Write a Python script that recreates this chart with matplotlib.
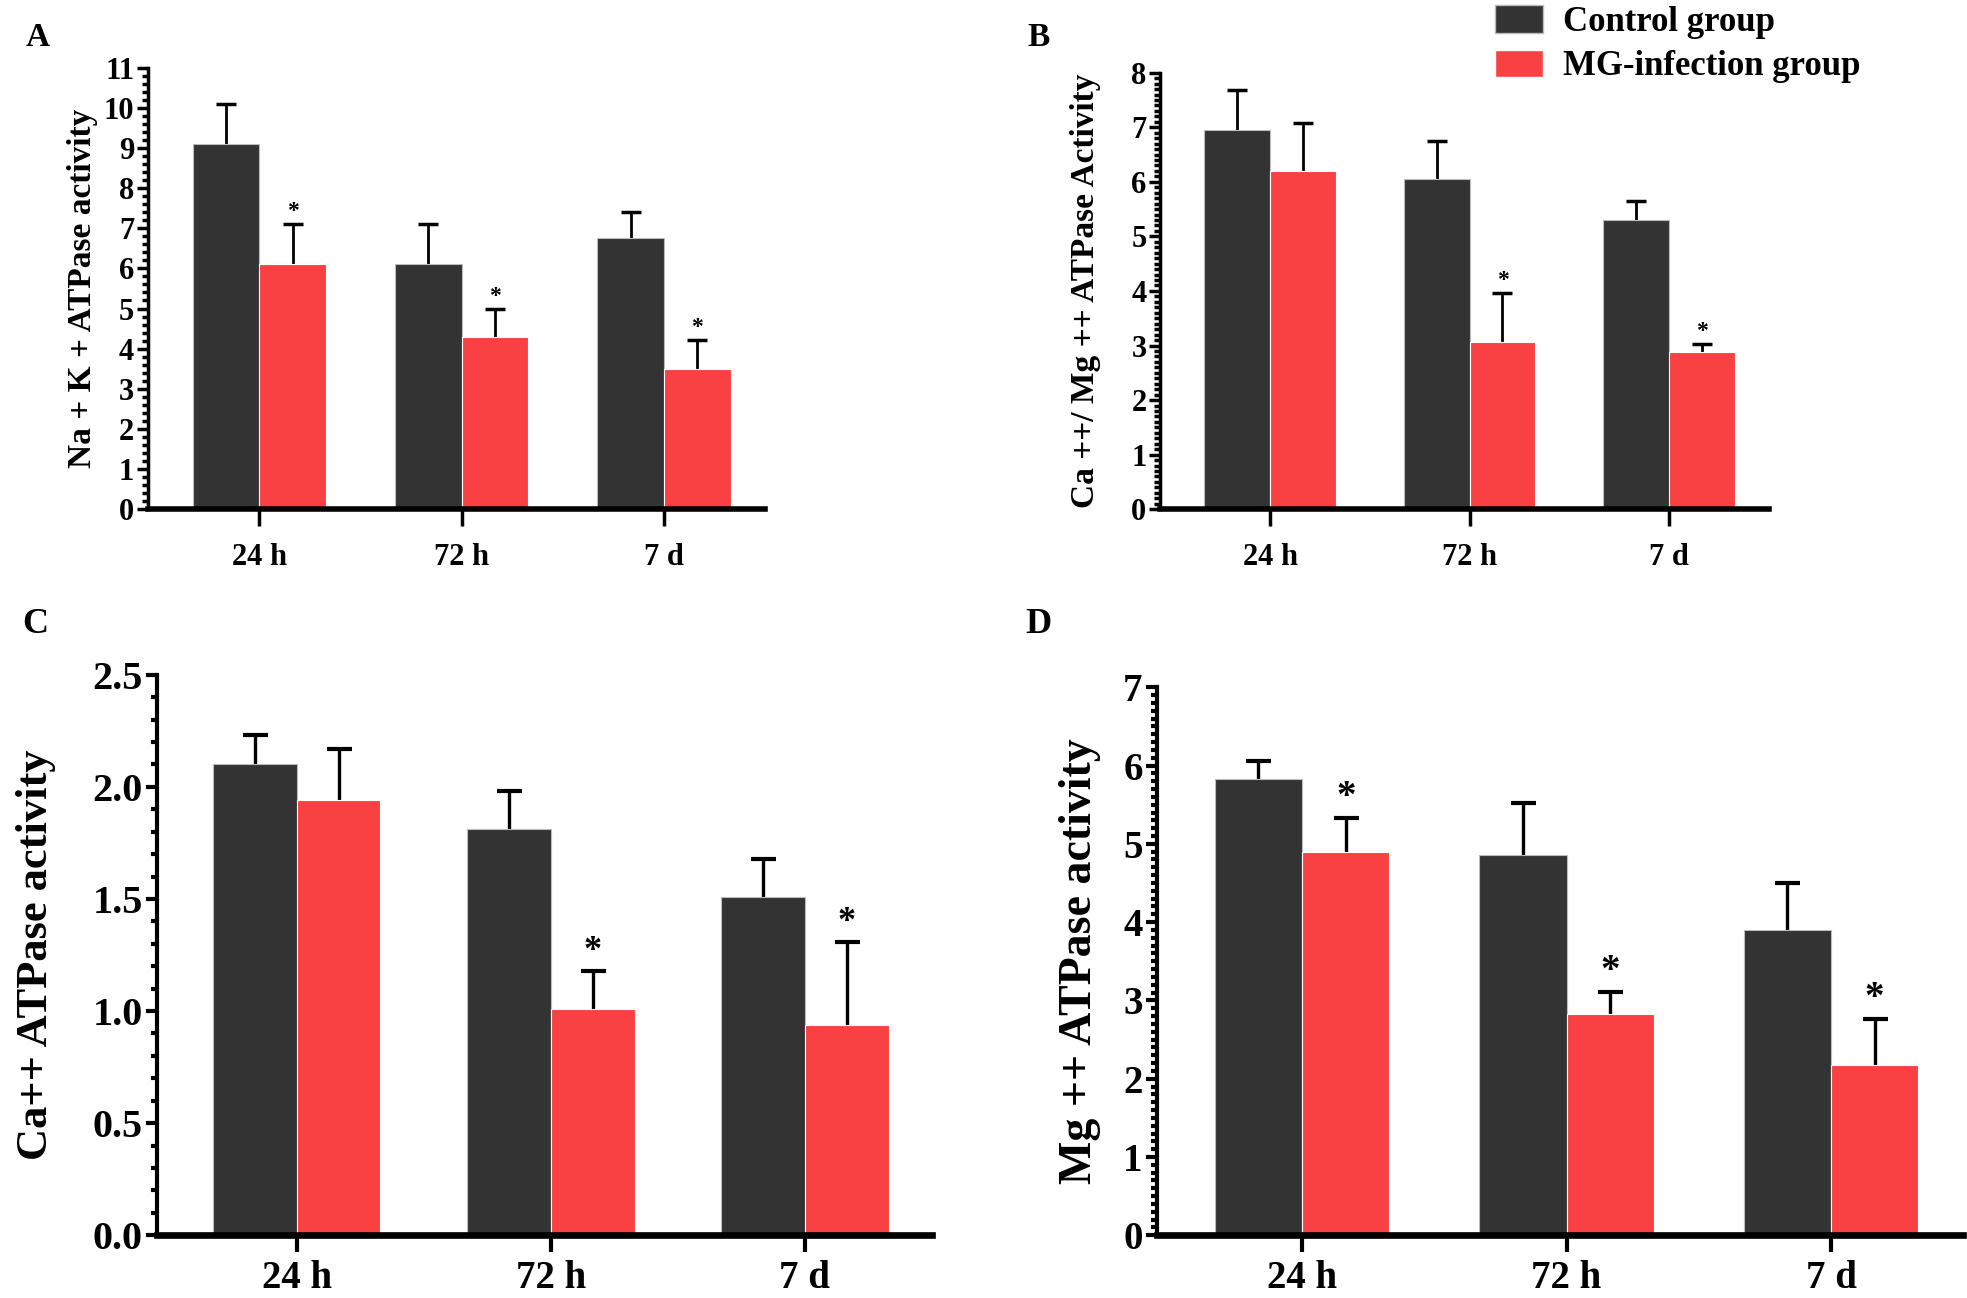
import matplotlib
matplotlib.use("Agg")
import matplotlib.pyplot as plt
from matplotlib.patches import Patch
from matplotlib.ticker import MultipleLocator
import numpy as np

plt.rcParams['font.family'] = ['Liberation Serif', 'DejaVu Serif']
plt.rcParams['font.weight'] = 'bold'

groups = ["24 h", "72 h", "7 d"]
series_names = ["Control group", "MG-infection group"]
colors = ["#333333", "#f94143"]

# Panel A: Na+K+ ATPase
a_ctrl = [9.1, 6.1, 6.75]
a_ctrl_err = [1.0, 1.0, 0.65]
a_mg = [6.1, 4.28, 3.5]
a_mg_err = [1.0, 0.72, 0.72]
a_sig = [True, True, True]

# Panel B: Ca++/Mg++ ATPase
b_ctrl = [6.95, 6.06, 5.3]
b_ctrl_err = [0.73, 0.68, 0.35]
b_mg = [6.2, 3.06, 2.89]
b_mg_err = [0.87, 0.9, 0.14]
b_sig = [False, True, True]

# Panel C: Ca++ ATPase
c_ctrl = [2.1, 1.81, 1.51]
c_ctrl_err = [0.13, 0.17, 0.17]
c_mg = [1.94, 1.01, 0.94]
c_mg_err = [0.23, 0.17, 0.37]
c_sig = [False, True, True]

# Panel D: Mg++ ATPase
d_ctrl = [5.83, 4.86, 3.9]
d_ctrl_err = [0.23, 0.66, 0.6]
d_mg = [4.9, 2.83, 2.17]
d_mg_err = [0.43, 0.28, 0.59]
d_sig = [True, True, True]

W, H = 1568.0, 1035.0
fig = plt.figure(figsize=(19.67, 12.98), dpi=100)


def make_axes(l, r, b, t):
    return fig.add_axes([l / W, 1 - b / H, (r - l) / W, (b - t) / H])


def panel(ax, ctrl, ctrl_err, mg, mg_err, sig, ymax, major, minor, fmt,
          ylabel, tick_fs, xl_fs, yl_fs, ylpad, star_fs, lw, cap, xpad,
          letter, lx, ly, let_fs):
    x = np.arange(len(groups))
    bw = 0.33
    ax.bar(x - bw / 2, ctrl, bw, color=colors[0], edgecolor="#bbbbbb",
           linewidth=0.8, zorder=2)
    ax.bar(x + bw / 2, mg, bw, color=colors[1], edgecolor="#ffffff",
           linewidth=0.8, zorder=2)
    for vals, errs, off in ((ctrl, ctrl_err, -bw / 2), (mg, mg_err, bw / 2)):
        vals = np.asarray(vals)
        errs = np.asarray(errs)
        ax.errorbar(x + off, vals, yerr=[np.zeros(3), errs], fmt="none",
                    ecolor="black", elinewidth=lw * 0.8, capsize=0, zorder=1)
        ax.plot(x + off, vals + errs, linestyle="none", marker="_",
                markersize=cap, markeredgewidth=lw, color="black", zorder=1)
    for i in range(len(groups)):
        if sig[i]:
            ax.text(x[i] + bw / 2, mg[i] + mg_err[i] + ymax * 0.004, "*",
                    ha="center", va="bottom", fontsize=star_fs,
                    fontweight="bold")
    ax.set_xlim(-0.55, 2.5)
    ax.set_ylim(0, ymax)
    ticks = np.arange(0, ymax + major / 2, major)
    ax.yaxis.set_minor_locator(MultipleLocator(minor))
    ax.set_yticks(ticks)
    ax.set_yticklabels([fmt.format(v) for v in ticks])
    ax.set_xticks(x)
    ax.set_xticklabels(groups)
    for s in ["top", "right"]:
        ax.spines[s].set_visible(False)
    ax.spines["left"].set_linewidth(lw)
    ax.spines["bottom"].set_linewidth(lw * 1.6)
    ax.tick_params(axis="y", which="major", length=8, width=lw,
                   labelsize=tick_fs, pad=2)
    ax.tick_params(axis="y", which="minor", length=4, width=lw)
    ax.tick_params(axis="x", which="major", length=12, width=lw,
                   labelsize=xl_fs, pad=xpad)
    for lab in ax.get_xticklabels() + ax.get_yticklabels():
        lab.set_fontweight("bold")
    ax.set_ylabel(ylabel, fontsize=yl_fs, fontweight="bold", labelpad=ylpad)
    fig.text(lx / W, 1 - ly / H, letter, fontsize=let_fs, fontweight="bold",
             ha="center", va="center")


axA = make_axes(118, 610, 406, 54)
panel(axA, a_ctrl, a_ctrl_err, a_mg, a_mg_err, a_sig, 11, 1, 0.2, "{:.0f}",
      "Na + K + ATPase activity", 22, 22, 24, 4, 17, 2.5, 14, 12,
      "A", 30, 30, 24)

axB = make_axes(925, 1410, 406, 58)
panel(axB, b_ctrl, b_ctrl_err, b_mg, b_mg_err, b_sig, 8, 1, 0.1, "{:.0f}",
      "Ca ++/ Mg ++ ATPase Activity", 22, 22, 24, 22, 17, 2.5, 14, 12,
      "B", 828, 30, 24)

axC = make_axes(125, 743, 985, 538)
panel(axC, c_ctrl, c_ctrl_err, c_mg, c_mg_err, c_sig, 2.5, 0.5, 0.1, "{:.1f}",
      "Ca++ ATPase activity", 29, 28, 32, 26, 26, 3, 18, 6,
      "C", 28, 498, 26)

axD = make_axes(922, 1565, 985, 548)
panel(axD, d_ctrl, d_ctrl_err, d_mg, d_mg_err, d_sig, 7, 1, 0.1, "{:.0f}",
      "Mg ++ ATPase activity", 28, 28, 33, 16, 28, 3, 18, 6,
      "D", 828, 498, 26)

handles = [Patch(facecolor=colors[0], edgecolor="#bbbbbb"),
           Patch(facecolor=colors[1], edgecolor="#ffffff")]
fig.legend(handles, series_names, loc="upper left",
           bbox_to_anchor=(1175 / W, 1.012), frameon=False,
           prop={"family": "Liberation Serif", "weight": "bold", "size": 25},
           handlelength=1.4, handleheight=0.85, handletextpad=0.55,
           labelspacing=0.3, borderaxespad=0.2)

fig.savefig("out.png", dpi=100)
